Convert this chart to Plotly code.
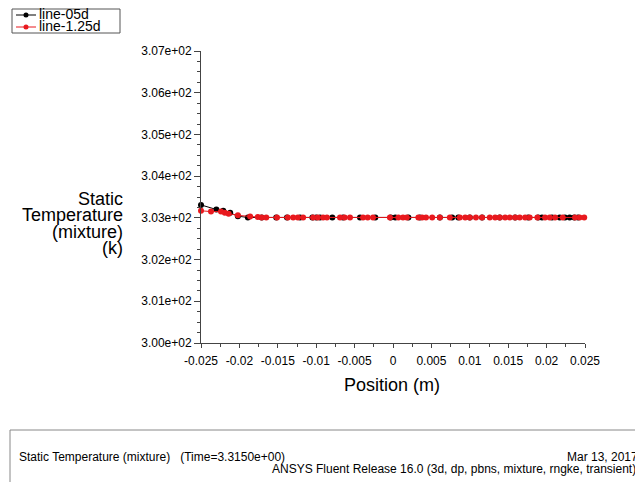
import plotly.graph_objects as go

# Static temperature along two sample lines (position in m, temperature in K)
pos_05d = [-0.0250, -0.0230, -0.0221, -0.0212, -0.0202, -0.0189, -0.0171, -0.0152,
           -0.0138, -0.0121, -0.0105, -0.0100, -0.0095, -0.0079, -0.0065, -0.0043,
           -0.0023, -0.0003, 0.0003, 0.0020, 0.0035, 0.0061, 0.0077, 0.0085,
           0.0100, 0.0116, 0.0139, 0.0159, 0.0176, 0.0189, 0.0194, 0.0207,
           0.0217, 0.0224, 0.0230, 0.0236, 0.0241]
temp_05d = [303.31, 303.20, 303.17, 303.12, 303.04, 303.01, 303.01, 303.01,
            303.01, 303.01, 303.01, 303.01, 303.01, 303.01, 303.01, 303.01,
            303.01, 303.01, 303.01, 303.01, 303.01, 303.01, 303.01, 303.01,
            303.01, 303.01, 303.01, 303.01, 303.01, 303.01, 303.01, 303.01,
            303.01, 303.01, 303.01, 303.01, 303.01]

pos_125d = [-0.0250, -0.0237, -0.0224, -0.0219, -0.0214, -0.0202, -0.0186, -0.0176,
            -0.0171, -0.0165, -0.0151, -0.0137, -0.0130, -0.0124, -0.0117, -0.0104,
            -0.0098, -0.0091, -0.0086, -0.0069, -0.0063, -0.0056, -0.0039, -0.0033,
            -0.0026, -0.0004, 0.0007, 0.0013, 0.0018, 0.0033, 0.0038, 0.0043,
            0.0051, 0.0061, 0.0074, 0.0087, 0.0094, 0.0100, 0.0108, 0.0116,
            0.0126, 0.0133, 0.0139, 0.0146, 0.0152, 0.0159, 0.0165, 0.0172,
            0.0178, 0.0188, 0.0198, 0.0204, 0.0211, 0.0221, 0.0237, 0.0243,
            0.0249]
temp_125d = [303.17, 303.15, 303.15, 303.12, 303.10, 303.06, 303.03, 303.02,
             303.01, 303.01, 303.01, 303.01, 303.01, 303.01, 303.01, 303.01,
             303.01, 303.01, 303.01, 303.01, 303.01, 303.01, 303.01, 303.01,
             303.01, 303.01, 303.01, 303.01, 303.01, 303.01, 303.01, 303.01,
             303.01, 303.01, 303.01, 303.01, 303.01, 303.01, 303.01, 303.01,
             303.01, 303.01, 303.01, 303.01, 303.01, 303.01, 303.01, 303.01,
             303.01, 303.01, 303.01, 303.01, 303.01, 303.01, 303.01, 303.01,
             303.01]

series_names = ["line-05d", "line-1.25d"]
series_colors = ["#000000", "#e8191e"]

x_ticks = [-0.025, -0.02, -0.015, -0.01, -0.005, 0, 0.005, 0.01, 0.015, 0.02, 0.025]
x_tick_text = ["-0.025", "-0.02", "-0.015", "-0.01", "-0.005", "0",
               "0.005", "0.01", "0.015", "0.02", "0.025"]
y_ticks = [300, 301, 302, 303, 304, 305, 306, 307]
y_tick_text = ["3.00e+02", "3.01e+02", "3.02e+02", "3.03e+02",
               "3.04e+02", "3.05e+02", "3.06e+02", "3.07e+02"]

W, H = 635, 482
L, R, T, B = 201, 585, 51, 343
FONT = "Liberation Sans, Arial, sans-serif"


def px(x):
    return (x - L) / (R - L)


def py(y):
    return (B - y) / (B - T)


fig = go.Figure()
for xs, ys, name, col in [(pos_05d, temp_05d, series_names[0], series_colors[0]),
                          (pos_125d, temp_125d, series_names[1], series_colors[1])]:
    fig.add_trace(go.Scatter(
        x=xs, y=ys, name=name, mode="lines+markers",
        line=dict(color=col, width=1),
        marker=dict(color=col, size=6, symbol="circle"),
        showlegend=False, cliponaxis=False,
    ))

axis_common = dict(showgrid=False, zeroline=False, showline=True,
                   linecolor="#444444", linewidth=1, tickcolor="#444444",
                   ticks="outside", tickfont=dict(family=FONT, size=12, color="#000"))

fig.update_xaxes(range=[-0.025, 0.025], tickvals=x_ticks, ticktext=x_tick_text,
                 ticklen=4, ticklabelstandoff=3,
                 minor=dict(dtick=0.0025, ticks="outside", ticklen=3, tickcolor="#444444"),
                 **axis_common)
fig.update_yaxes(range=[300, 307], tickvals=y_ticks, ticktext=y_tick_text,
                 ticklen=6,
                 minor=dict(dtick=0.25, ticks="outside", ticklen=3, tickcolor="#444444"),
                 **axis_common)

annotations = []
# axis titles
annotations.append(dict(x=px(392), y=py(385), xref="paper", yref="paper",
                        text="Position (m)", showarrow=False,
                        font=dict(family=FONT, size=18, color="#000"),
                        xanchor="center", yanchor="middle"))
for line, yc in [("Static", 199), ("Temperature", 215), ("(mixture)", 232), ("(k)", 248)]:
    annotations.append(dict(x=px(125), y=py(yc), xref="paper", yref="paper",
                            text=line, showarrow=False,
                            font=dict(family=FONT, size=18, color="#000"),
                            xanchor="right", yanchor="middle"))

# legend box
shapes = [dict(type="rect", xref="paper", yref="paper",
               x0=px(12), x1=px(120), y0=py(9), y1=py(33),
               line=dict(color="#555555", width=1), fillcolor="rgba(0,0,0,0)")]
for i, (name, col) in enumerate(zip(series_names, series_colors)):
    yc = 15 + 12 * i
    shapes.append(dict(type="line", xref="paper", yref="paper",
                       x0=px(16), x1=px(36), y0=py(yc), y1=py(yc),
                       line=dict(color=col, width=1)))
    shapes.append(dict(type="circle", xref="paper", yref="paper",
                       x0=px(23.5), x1=px(28.5), y0=py(yc - 2.5), y1=py(yc + 2.5),
                       line=dict(color=col, width=0), fillcolor=col))
    annotations.append(dict(x=px(37), y=py(yc - 1), xref="paper", yref="paper",
                            text=name, showarrow=False,
                            font=dict(family=FONT, size=14, color="#000"),
                            xanchor="left", yanchor="middle"))

# footer box with run information
shapes.append(dict(type="rect", xref="paper", yref="paper",
                   x0=px(10), x1=px(700), y0=py(430), y1=py(520),
                   line=dict(color="#888888", width=1), fillcolor="rgba(0,0,0,0)"))
footer = [
    ("Static Temperature (mixture)&nbsp;&nbsp;&nbsp;(Time=3.3150e+00)", 17, 457),
    ("Mar 13, 2017", 565, 457),
    ("ANSYS Fluent Release 16.0 (3d, dp, pbns, mixture, rngke, transient)", 270, 469),
]
for txt, xl, yc in footer:
    annotations.append(dict(x=px(xl), y=py(yc), xref="paper", yref="paper",
                            text=txt, showarrow=False,
                            font=dict(family=FONT, size=12, color="#000"),
                            xanchor="left", yanchor="middle"))

fig.update_layout(
    width=W, height=H, autosize=False,
    margin=dict(l=L, r=W - R, t=T, b=H - B, pad=0),
    paper_bgcolor="white", plot_bgcolor="white",
    showlegend=False,
    annotations=annotations, shapes=shapes,
)

fig.write_html("out.html")
